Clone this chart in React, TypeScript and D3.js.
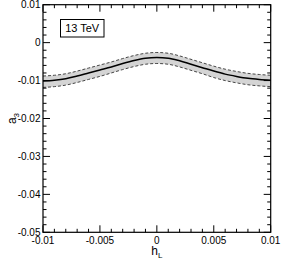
import React from "react";
import * as d3 from "d3";

const hValues = [-0.01, -0.009, -0.008, -0.007, -0.006, -0.005, -0.004, -0.003, -0.002, -0.001, 0, 0.001, 0.002, 0.003, 0.004, 0.005, 0.006, 0.007, 0.008, 0.009, 0.01];
const centerValues = [-0.0101, -0.0099, -0.0095, -0.0088, -0.008, -0.0072, -0.0064, -0.0055, -0.0047, -0.0041, -0.0039, -0.0041, -0.0048, -0.0057, -0.0066, -0.0075, -0.0083, -0.0089, -0.0094, -0.0097, -0.0099];
const upperValues = [-0.0088, -0.0086, -0.0082, -0.0075, -0.0067, -0.0059, -0.0051, -0.0042, -0.0034, -0.0028, -0.0026, -0.0028, -0.0035, -0.0044, -0.0053, -0.0062, -0.007, -0.0076, -0.0081, -0.0084, -0.0086];
const lowerValues = [-0.0118, -0.0116, -0.0112, -0.0105, -0.0097, -0.0089, -0.008, -0.0071, -0.0063, -0.0057, -0.0055, -0.0057, -0.0064, -0.0073, -0.0082, -0.0092, -0.01, -0.0106, -0.0111, -0.0114, -0.0116];
const xTicks = [-0.01, -0.005, 0, 0.005, 0.01];
const xTickLabels = ["-0.01", "-0.005", "0", "0.005", "0.01"];
const yTicks = [0.01, 0, -0.01, -0.02, -0.03, -0.04, -0.05];
const yTickLabels = ["0.01", "0", "-0.01", "-0.02", "-0.03", "-0.04", "-0.05"];
const labelText = "13 TeV";

export default function App() {
  const W = 281, H = 262;
  const L = 43, R = 270.7, T = 4.7, B = 232.3;
  const x = d3.scaleLinear().domain([-0.01, 0.01]).range([L, R]);
  const y = d3.scaleLinear().domain([0.01, -0.05]).range([T, B]);
  const font = "'Liberation Sans', Arial, Helvetica, sans-serif";

  const pts = hValues.map((h, i) => ({ h, c: centerValues[i], u: upperValues[i], l: lowerValues[i] }));
  const area = d3.area<any>().x(d => x(d.h)).y0(d => y(d.l)).y1(d => y(d.u)).curve(d3.curveMonotoneX);
  const lineC = d3.line<any>().x(d => x(d.h)).y(d => y(d.c)).curve(d3.curveMonotoneX);
  const lineU = d3.line<any>().x(d => x(d.h)).y(d => y(d.u)).curve(d3.curveMonotoneX);
  const lineL = d3.line<any>().x(d => x(d.h)).y(d => y(d.l)).curve(d3.curveMonotoneX);

  const xMinor = d3.range(0, 21).map(i => -0.01 + i * 0.001);
  const yMinor = d3.range(0, 31).map(i => 0.01 - i * 0.002);
  const isMajorX = (v: number) => xTicks.some(t => Math.abs(t - v) < 1e-9);
  const isMajorY = (v: number) => yTicks.some(t => Math.abs(t - v) < 1e-9);

  return (
    <svg width={W} height={H} style={{ position: "absolute", left: 0, top: 0, background: "#fff" }}>
      <path d={area(pts) || ""} fill="#d4d4d4" stroke="none" />
      <path d={lineU(pts) || ""} fill="none" stroke="#333" strokeWidth={0.9} strokeDasharray="3,2" />
      <path d={lineL(pts) || ""} fill="none" stroke="#333" strokeWidth={0.9} strokeDasharray="3,2" />
      <path d={lineC(pts) || ""} fill="none" stroke="#000" strokeWidth={1.5} />
      {xMinor.map((v, i) => {
        const len = isMajorX(v) ? 7 : 3.5;
        return (
          <g key={"xm" + i} stroke="#000" strokeWidth={1}>
            <line x1={x(v)} x2={x(v)} y1={B} y2={B - len} />
            <line x1={x(v)} x2={x(v)} y1={T} y2={T + len} />
          </g>
        );
      })}
      {yMinor.map((v, i) => {
        const len = isMajorY(v) ? 7 : 3.5;
        return (
          <g key={"ym" + i} stroke="#000" strokeWidth={1}>
            <line x1={L} x2={L + len} y1={y(v)} y2={y(v)} />
            <line x1={R} x2={R - len} y1={y(v)} y2={y(v)} />
          </g>
        );
      })}
      <rect x={L} y={T} width={R - L} height={B - T} fill="none" stroke="#000" strokeWidth={1.2} />
      {xTicks.map((v, i) => (
        <text key={"xt" + i} x={x(v)} y={243.5} textAnchor="middle" fontFamily={font} fontSize={10} fill="#000">{xTickLabels[i]}</text>
      ))}
      {yTicks.map((v, i) => (
        <text key={"yt" + i} x={40.5} y={y(v) + 3.6} textAnchor="end" fontFamily={font} fontSize={10} fill="#000">{yTickLabels[i]}</text>
      ))}
      <text x={x(0)} y={254.5} textAnchor="middle" fontFamily={font} fontSize={12} fill="#000">
        h<tspan fontSize={8} dy={3}>L</tspan>
      </text>
      <text transform={`translate(15.5, ${(T + B) / 2}) rotate(-90)`} textAnchor="middle" fontFamily={font} fontSize={12} fill="#000">
        a<tspan fontSize={8} dy={3}>3</tspan>
      </text>
      <rect x={60.5} y={19.5} width={43.5} height={17.5} fill="#fff" stroke="#000" strokeWidth={1} />
      <text x={82.2} y={32.3} textAnchor="middle" fontFamily={font} fontSize={11} fill="#000">{labelText}</text>
    </svg>
  );
}
